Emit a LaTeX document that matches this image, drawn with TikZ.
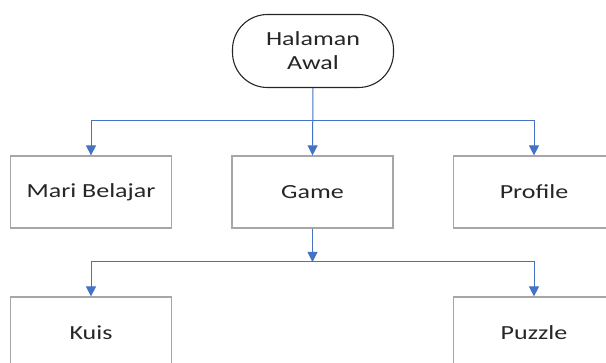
\documentclass[tikz,border=0pt]{standalone}
\usepackage{fontspec}
\usetikzlibrary{arrows.meta}
\newfontfamily\boxfont[FakeStretch=1.3]{Carlito}
\definecolor{linkblue}{HTML}{4472C4}
\definecolor{boxgray}{HTML}{A6A6A6}
\definecolor{txt}{HTML}{262626}
\begin{document}
\begin{tikzpicture}[x=1pt,y=-1pt,
  box/.style={draw=boxgray,line width=1.2pt,minimum width=161pt,minimum height=72pt,
    inner sep=0pt,font=\boxfont\fontsize{20}{24}\selectfont,text=txt,align=center},
  term/.style={draw=black!85,line width=1.1pt,rounded corners=35pt,minimum width=161pt,
    minimum height=73pt,inner sep=0pt,font=\boxfont\fontsize{20}{24}\selectfont,text=txt,align=center},
  conn/.style={draw=linkblue,line width=1pt,-{Triangle[width=10pt,length=10pt]}}]
\clip (0,0) rectangle (606,363);
\fill[white] (0,0) rectangle (606,363);
\node[term] (top) at (313,51) {Halaman\\Awal};
\node[box] (mari) at (91,192) {Mari Belajar};
\node[box] (game) at (312.5,192) {Game};
\node[box] (profile) at (534,192) {Profile};
\node[box] (kuis) at (91,333) {Kuis};
\node[box] (puzzle) at (534,333) {Puzzle};
\coordinate (b1) at (312.5,121);
\coordinate (b2) at (312.5,262);
\draw[conn] (top.south) -- (game.north);
\draw[conn] (b1) -| (mari.north);
\draw[conn] (b1) -| (profile.north);
\draw[conn] (game.south) -- (b2);
\draw[conn] (b2) -| (kuis.north);
\draw[conn] (b2) -| (puzzle.north);
\end{tikzpicture}
\end{document}
